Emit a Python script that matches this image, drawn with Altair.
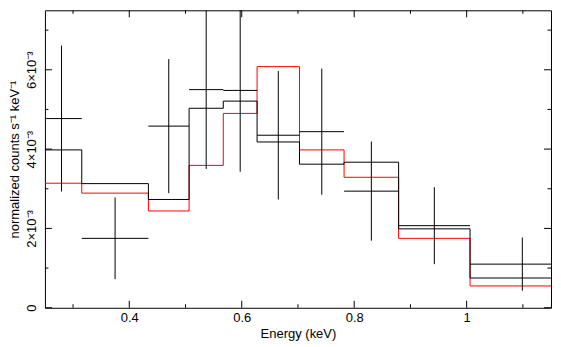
import altair as alt
import pandas as pd

# Energy bins (keV)
e_lo = [0.2435, 0.3155, 0.434, 0.5064, 0.5672, 0.6273, 0.7027, 0.782, 0.879, 1.006]
e_hi = [0.3155, 0.434, 0.5064, 0.5672, 0.6273, 0.7027, 0.782, 0.879, 1.006, 1.192]
# Data (normalized counts s^-1 keV^-1) and 1-sigma errors
rate = [4.77e-3, 1.75e-3, 4.58e-3, 5.50e-3, 5.48e-3, 4.35e-3, 4.44e-3, 2.94e-3, 2.07e-3, 1.10e-3]
err = [1.84e-3, 1.03e-3, 1.69e-3, 2.00e-3, 2.05e-3, 1.62e-3, 1.59e-3, 1.25e-3, 0.97e-3, 0.67e-3]
# Model curves (step per bin)
model_black = [3.98e-3, 3.13e-3, 2.73e-3, 5.03e-3, 5.21e-3, 4.18e-3, 3.62e-3, 3.67e-3, 1.99e-3, 0.75e-3]
model_red = [3.14e-3, 2.89e-3, 2.44e-3, 3.59e-3, 4.90e-3, 6.08e-3, 3.98e-3, 3.29e-3, 1.75e-3, 0.55e-3]

# Axis ticks
x_major = [0.4, 0.6, 0.8, 1.0]
x_minor = [0.3, 0.5, 0.7, 0.9, 1.1]
y_major = [0.0, 0.002, 0.004, 0.006]
y_minor = [0.001, 0.003, 0.005, 0.007]

X_DOMAIN = [0.25, 1.15]
Y_DOMAIN = [0.0, 0.0075]
W, H = 507, 298
FONT = "Liberation Sans"

xs = alt.Scale(domain=X_DOMAIN, nice=False, zero=False)
ys = alt.Scale(domain=Y_DOMAIN, nice=False, zero=False)

xaxis = alt.Axis(values=x_major, format="~g", ticks=False, domain=False, grid=False,
                 labelFont=FONT, labelFontSize=13, labelColor="black", labelPadding=4,
                 title="Energy (keV)", titleFont=FONT, titleFontSize=13,
                 titleFontWeight="normal", titleColor="black", titlePadding=3)
yaxis = alt.Axis(values=y_major, ticks=False, domain=False, grid=False,
                 labelExpr="datum.value == 0 ? '0' : format(datum.value*1000, '.0f') + '×10⁻³'",
                 labelAngle=270, labelAlign="center", labelBaseline="bottom",
                 labelFont=FONT, labelFontSize=13, labelColor="black", labelPadding=6,
                 title="normalized counts s⁻¹ keV⁻¹", titleFont=FONT, titleFontSize=13,
                 titleFontWeight="normal", titleColor="black", titlePadding=4)

# Data table
pts = pd.DataFrame({
    "lo": e_lo, "hi": e_hi, "rate": rate, "err": err,
})
pts["center"] = (pts["lo"] + pts["hi"]) / 2
pts["ylo"] = pts["rate"] - pts["err"]
pts["yhi"] = pts["rate"] + pts["err"]

# Step-line tables
def step_table(vals):
    rows = []
    k = 0
    for lo, hi, v in zip(e_lo, e_hi, vals):
        rows.append({"x": lo, "y": v, "i": k}); k += 1
        rows.append({"x": hi, "y": v, "i": k}); k += 1
    return pd.DataFrame(rows)

red = alt.Chart(step_table(model_red)).mark_line(color="#ff0000", strokeWidth=1, clip=True).encode(
    x=alt.X("x:Q", scale=xs, axis=xaxis),
    y=alt.Y("y:Q", scale=ys, axis=yaxis),
    order="i:Q",
)
black = alt.Chart(step_table(model_black)).mark_line(color="black", strokeWidth=1, clip=True).encode(
    x=alt.X("x:Q", scale=xs, axis=xaxis),
    y=alt.Y("y:Q", scale=ys, axis=yaxis),
    order="i:Q",
)
hbar = alt.Chart(pts).mark_rule(color="black", strokeWidth=1, clip=True).encode(
    x=alt.X("lo:Q", scale=xs, axis=xaxis),
    x2="hi:Q",
    y=alt.Y("rate:Q", scale=ys, axis=yaxis),
)
vbar = alt.Chart(pts).mark_rule(color="black", strokeWidth=1, clip=True).encode(
    x=alt.X("center:Q", scale=xs, axis=xaxis),
    y=alt.Y("ylo:Q", scale=ys, axis=yaxis),
    y2="yhi:Q",
)

def yticks(vals, length):
    df = pd.DataFrame({"t": vals})
    left = alt.Chart(df).mark_rule(color="black", strokeWidth=1).encode(
        y=alt.Y("t:Q", scale=ys, axis=yaxis), x=alt.value(0), x2=alt.value(length))
    right = alt.Chart(df).mark_rule(color="black", strokeWidth=1).encode(
        y=alt.Y("t:Q", scale=ys, axis=yaxis), x=alt.value(W), x2=alt.value(W - length))
    return [left, right]

def xticks(vals, length):
    df = pd.DataFrame({"t": vals})
    bottom = alt.Chart(df).mark_rule(color="black", strokeWidth=1).encode(
        x=alt.X("t:Q", scale=xs, axis=xaxis), y=alt.value(H), y2=alt.value(H - length))
    top = alt.Chart(df).mark_rule(color="black", strokeWidth=1).encode(
        x=alt.X("t:Q", scale=xs, axis=xaxis), y=alt.value(0), y2=alt.value(length))
    return [bottom, top]

tick_layers = yticks(y_major, 7) + yticks(y_minor, 3.5) + xticks(x_major, 7) + xticks(x_minor, 3.5)

chart = alt.layer(red, black, hbar, vbar, *tick_layers).properties(
    width=W, height=H,
    padding={"top": 1, "left": 0, "right": 1, "bottom": 0},
).configure(
    background="white",
    view=alt.ViewConfig(stroke="black", strokeWidth=1),
)

chart.save("out.html", embed_options={"renderer": "svg", "actions": False})
